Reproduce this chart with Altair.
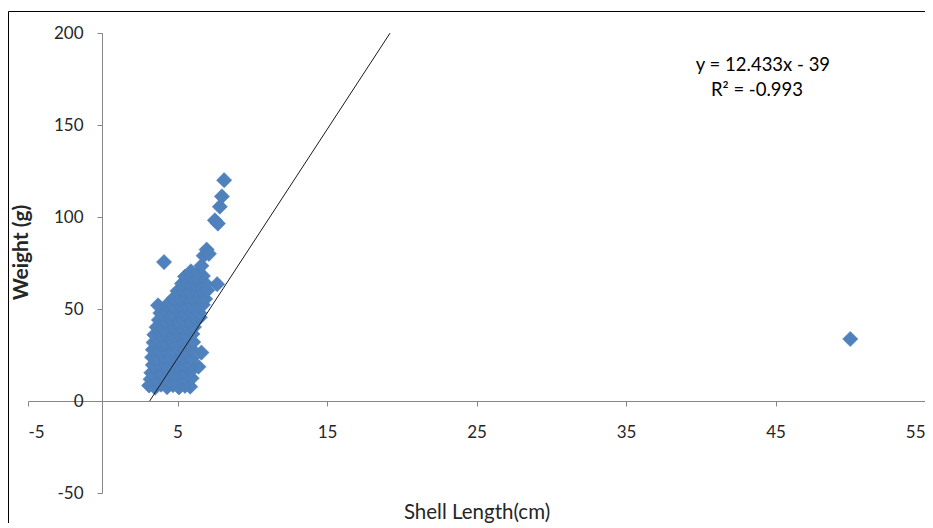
import altair as alt
import pandas as pd

# Shell length (cm) and weight (g) readings
shell_length = [
    3.1, 3.5, 3.9, 4.3, 4.7, 5.1, 5.5, 5.85,
    3.2, 3.6, 4.1, 4.5, 4.9, 5.3, 5.7, 5.95,
    3.25, 3.7, 4.0, 4.4, 4.85, 5.2, 5.6, 5.9,
    6.4,
    3.35, 3.8, 4.2, 4.6, 5.0, 5.45, 5.85,
    3.3, 3.65, 4.05, 4.5, 4.9, 5.3, 5.7, 5.95,
    6.6,
    3.35, 3.8, 4.2, 4.65, 5.05, 5.5, 5.9,
    3.4, 3.75, 4.15, 4.6, 5.0, 5.4, 5.8, 6.05,
    3.45, 3.9, 4.3, 4.7, 5.1, 5.55, 6.0,
    3.6, 4.0, 4.45, 4.85, 5.25, 5.7, 6.1,
    3.75, 4.15, 4.6, 5.0, 5.4, 5.85, 6.3, 6.5,
    3.85, 4.3, 4.7, 5.15, 5.55, 6.0, 6.45,
    3.7,
    4.3, 4.7, 5.1, 5.5, 5.95, 6.4, 6.7,
    4.75, 5.15, 5.6, 6.0, 6.45, 6.85,
    5.0, 5.4, 5.8, 6.25, 6.65, 7.0,
    7.65,
    5.3, 5.7, 6.1, 6.5, 6.9,
    5.5, 5.9, 6.3, 6.7,
    5.9, 6.4,
    6.6,
    6.75, 6.95, 7.1,
    4.1,
    7.5, 7.7, 7.83, 7.97, 8.12,
    50.0,
]
weight = [
    8.4, 7.2, 8.9, 7.5, 8.6, 7.4, 8.2, 7.8,
    11.8, 11.0, 12.3, 10.9, 11.6, 12.1, 11.0, 12.4,
    15.3, 16.0, 14.7, 15.9, 14.9, 16.2, 15.1, 16.4,
    18.6,
    19.6, 20.2, 19.0, 20.4, 19.3, 20.0, 19.4,
    23.8, 23.1, 24.4, 23.3, 24.1, 23.5, 24.6, 23.2,
    26.3,
    27.9, 27.3, 28.4, 27.5, 28.2, 27.4, 28.6,
    31.8, 32.4, 31.2, 32.6, 31.5, 32.3, 31.1, 32.0,
    36.0, 35.4, 36.5, 35.3, 36.2, 35.6, 36.4,
    40.1, 39.4, 40.5, 39.6, 40.3, 39.5, 40.2,
    44.0, 43.4, 44.6, 43.5, 44.4, 43.7, 44.3, 45.5,
    47.8, 48.3, 47.4, 48.6, 47.6, 48.4, 47.9,
    52.0,
    52.2, 51.6, 52.7, 51.8, 52.5, 51.5, 52.3,
    56.0, 55.4, 56.5, 55.6, 56.3, 55.5,
    59.8, 60.4, 59.5, 60.6, 59.7, 60.2,
    63.5,
    63.8, 64.4, 63.3, 64.5, 63.6,
    67.6, 68.2, 67.3, 68.0,
    70.5, 70.0,
    73.5,
    79.0, 82.3, 80.0,
    75.5,
    98.2, 96.4, 105.6, 111.2, 120.0,
    33.7,
]

# Linear trendline as reported on the chart
slope = 12.433
intercept = -39
trend_x = [3.137, 19.22]

x_ticks = [-5, 5, 15, 25, 35, 45, 55]
y_ticks = [-50, 0, 50, 100, 150, 200]

eq_labels = ["y = 12.433x - 39", "R\u00b2 = -0.993"]
eq_x = [44.16, 43.76]
eq_y = [182.6, 169.0]

pts = pd.DataFrame({"x": shell_length, "y": weight})
trend = pd.DataFrame({"x": trend_x, "y": [slope * v + intercept for v in trend_x]})
eq = pd.DataFrame({"label": eq_labels, "x": eq_x, "y": eq_y})

FONT = "Lato"
AXC = "#868686"
TXT = "#262626"

xscale = alt.Scale(domain=[-5, 55], nice=False, zero=False)
yscale = alt.Scale(domain=[-50, 200], nice=False, zero=False)

xaxis = alt.Axis(
    values=x_ticks, offset=-92, grid=False, tickSize=5, labelPadding=18,
    labelExpr="'' + datum.value",
    domainColor=AXC, tickColor=AXC, labelColor=TXT, labelFont=FONT,
    labelFontSize=17, title="Shell Length(cm)", titleFont=FONT, titleFontSize=20.5,
    titleFontWeight="normal", titleColor=TXT, titleY=111,
    titleBaseline="middle",
)
yaxis = alt.Axis(
    values=y_ticks, offset=-74, grid=False, tickSize=5, labelPadding=14,
    labelExpr="'' + datum.value",
    domainColor=AXC, tickColor=AXC, labelColor=TXT, labelFont=FONT,
    labelFontSize=17, title="Weight (g)", titleFont=FONT, titleFontSize=21,
    titleFontWeight="bold", titleColor=TXT, titleX=-81, titleY=219,
    titleAngle=-90, titleAlign="center", titleBaseline="middle",
)

points = alt.Chart(pts).mark_point(
    shape="diamond", filled=True, size=230, fill="#4F81BD",
    stroke="#4A7EBB", strokeWidth=0.6, opacity=1,
).encode(
    x=alt.X("x:Q", scale=xscale, axis=xaxis),
    y=alt.Y("y:Q", scale=yscale, axis=yaxis),
)

line = alt.Chart(trend).mark_line(color="#1a1a1a", strokeWidth=1).encode(
    x=alt.X("x:Q", scale=xscale),
    y=alt.Y("y:Q", scale=yscale),
)

text = alt.Chart(eq).mark_text(
    font=FONT, fontSize=18.5, color="#000000", align="center", baseline="middle"
).encode(
    x=alt.X("x:Q", scale=xscale),
    y=alt.Y("y:Q", scale=yscale),
    text="label:N",
)

one = pd.DataFrame({"a": [0]})
border_left = alt.Chart(one).mark_rule(color="#000000", strokeWidth=1, clip=False).encode(
    x=alt.value(-19.5), y=alt.value(-21.5), y2=alt.value(520)
)
border_top = alt.Chart(one).mark_rule(color="#000000", strokeWidth=1, clip=False).encode(
    x=alt.value(-19.5), x2=alt.value(920), y=alt.value(-21.5)
)

chart = alt.layer(border_left, border_top, points, line, text).properties(
    width=897, height=460,
    background="white",
    autosize=alt.AutoSizeParams(type="none"),
    padding={"left": 20, "top": 25, "right": 0, "bottom": 30},
).configure_view(stroke=None)

chart.save("out.html", embed_options={"renderer": "svg", "actions": False})
